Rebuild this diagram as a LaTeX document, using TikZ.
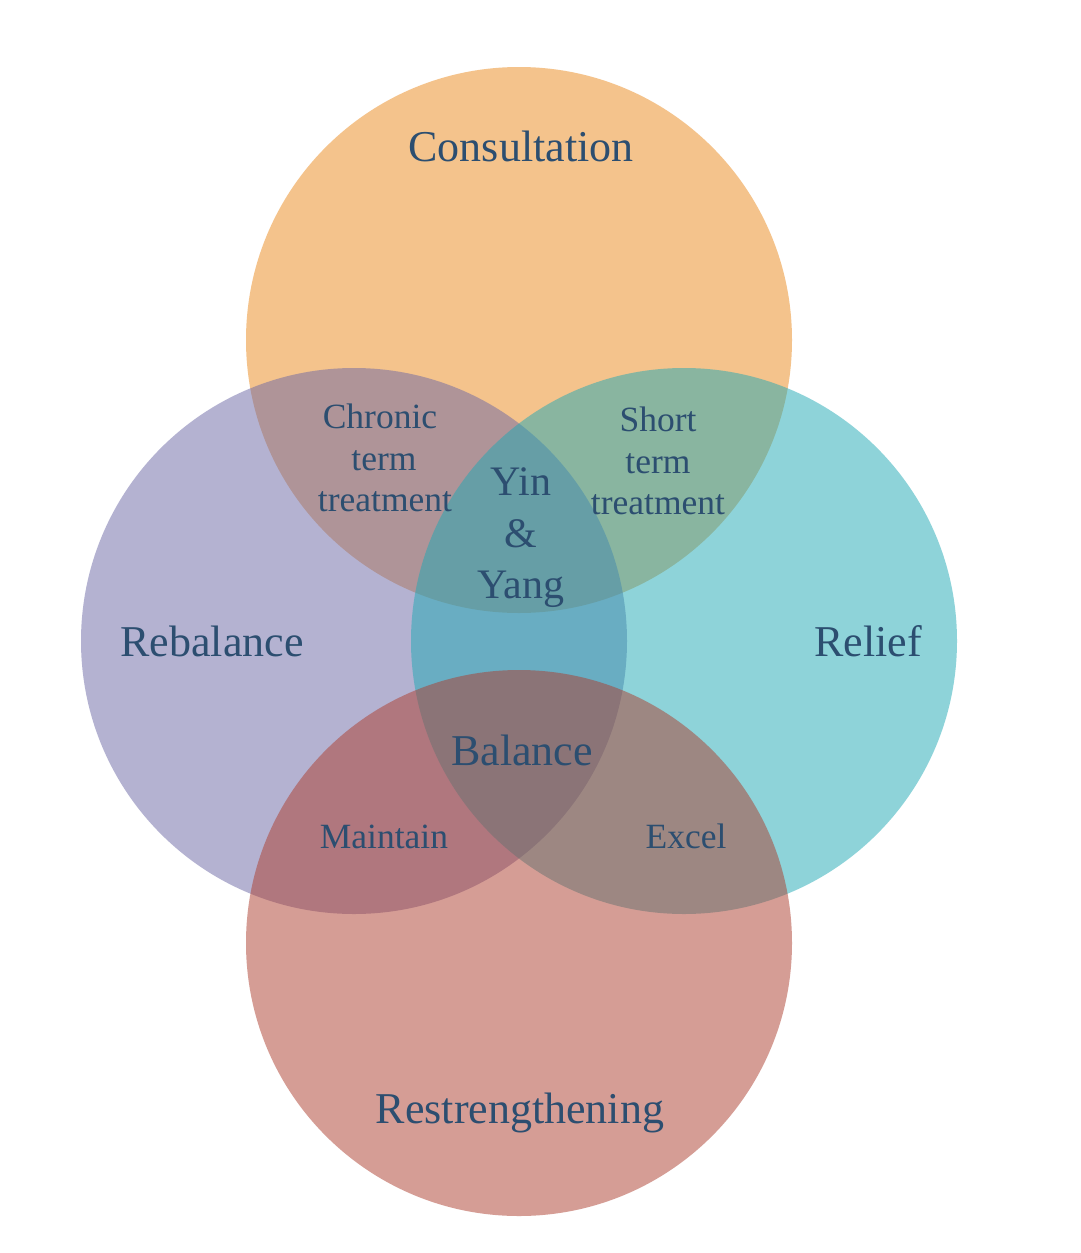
\documentclass[tikz,border=0pt]{standalone}
\usepackage{fontspec}
\setmainfont{Liberation Serif}
\definecolor{corange}{RGB}{235,137,27}
\definecolor{cpurple}{RGB}{107,103,165}
\definecolor{cteal}{RGB}{31,169,181}
\definecolor{cred}{RGB}{173,61,45}
\definecolor{ctext}{RGB}{44,78,112}
\begin{document}
\begin{tikzpicture}[x=1pt,y=-1pt,
  disc/.style={fill opacity=0.5},
  big/.style={text=ctext,anchor=base,inner sep=0pt,font=\fontsize{44}{50}\selectfont},
  mid/.style={text=ctext,anchor=base,inner sep=0pt,font=\fontsize{42}{50}\selectfont},
  small/.style={text=ctext,anchor=base,inner sep=0pt,font=\fontsize{35.5}{41}\selectfont}]
\useasboundingbox[fill=white] (0,0) rectangle (1080,1253);
\fill[disc,corange] (519,340) circle[radius=273];
\fill[disc,cpurple] (354,641) circle[radius=273];
\fill[disc,cteal] (684,641) circle[radius=273];
\fill[disc,cred] (519,943) circle[radius=273];
\node[big] (consultation) at (521,161) {Consultation};
\node[big] (rebalance) at (212,656) {Rebalance};
\node[big] (relief) at (868,656) {Relief};
\node[big] (balance) at (522,765) {Balance};
\node[big] (restrengthening) at (520,1123) {Restrengthening};
\node[mid] (yin) at (521,495) {Yin};
\node[mid] (amp) at (521,547) {\&};
\node[mid] (yang) at (521,598) {Yang};
\node[small] (chronic1) at (380,428) {Chronic};
\node[small] (chronic2) at (384,470) {term};
\node[small] (chronic3) at (385,511) {treatment};
\node[small] (short1) at (658,431) {Short};
\node[small] (short2) at (658,473) {term};
\node[small] (short3) at (658,514) {treatment};
\node[small] (maintain) at (384,848) {Maintain};
\node[small] (excel) at (686,848) {Excel};
\end{tikzpicture}
\end{document}
